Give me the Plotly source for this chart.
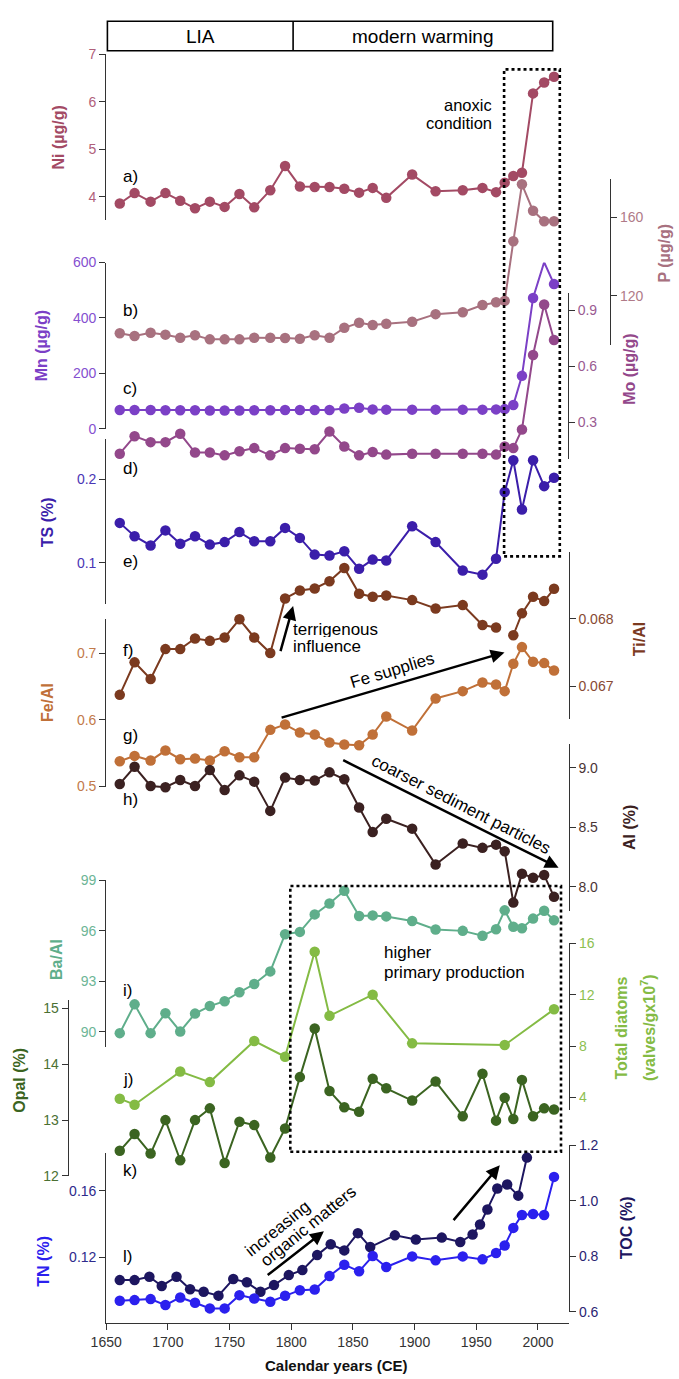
import plotly.graph_objects as go

# ---------------- data ----------------
years = [1661, 1673, 1686, 1698, 1710, 1722, 1734, 1746, 1758, 1770, 1783, 1795, 1807, 1819, 1831,
         1843, 1855, 1866, 1877, 1898, 1917, 1939, 1955, 1966, 1973, 1980, 1987, 1996, 2005, 2013]
toc_years = [1661, 1673, 1685, 1695, 1707, 1718, 1729, 1741, 1753, 1764, 1775, 1786, 1798, 1809, 1821,
             1832, 1843, 1854, 1864, 1884, 1901, 1922, 1937, 1947, 1953, 1959, 1967, 1975, 1984, 1991]
diatom_years = [1661, 1673, 1710, 1734, 1770, 1795, 1819, 1831, 1866, 1898, 1973, 2013]

ni = [3.86, 4.08, 3.90, 4.08, 3.92, 3.76, 3.90, 3.79, 4.06, 3.78, 4.14, 4.65, 4.22, 4.21, 4.21,
      4.17, 4.09, 4.19, 3.98, 4.47, 4.12, 4.14, 4.19, 4.10, 4.30, 4.44, 4.51, 6.18, 6.41, 6.53]
p = [100.7, 99.3, 101.0, 100.0, 98.4, 99.7, 97.6, 97.6, 97.6, 98.4, 98.4, 98.3, 97.9, 99.7, 98.4,
     103.5, 106.1, 104.9, 105.6, 106.6, 110.5, 111.5, 115.2, 116.6, 117.3, 147.8, 177.0, 163.4, 158.1, 158.1]
mn = [68, 68, 68, 67, 67, 67, 66, 66, 66, 67, 67, 68, 68, 68, 68,
      73, 76, 70, 69, 69, 69, 69, 69, 70, 71, 86, 191, 472, 601, 522]
mo = [0.131, 0.225, 0.193, 0.193, 0.238, 0.137, 0.137, 0.122, 0.144, 0.161, 0.122, 0.161, 0.158, 0.155, 0.250,
      0.170, 0.122, 0.140, 0.126, 0.131, 0.131, 0.131, 0.131, 0.126, 0.170, 0.161, 0.261, 0.661, 0.932, 0.742]
ts = [0.148, 0.132, 0.121, 0.139, 0.123, 0.132, 0.122, 0.125, 0.137, 0.126, 0.126, 0.142, 0.130, 0.110, 0.109,
      0.114, 0.093, 0.104, 0.103, 0.144, 0.125, 0.091, 0.086, 0.105, 0.185, 0.223, 0.164, 0.223, 0.192, 0.202]
ti_al = [0.066872, 0.067353, 0.067107, 0.067549, 0.067549, 0.067706, 0.067671, 0.067721, 0.067990, 0.067721,
         0.067490, 0.068299, 0.068416, 0.068446, 0.068553, 0.068750, 0.068368, 0.068324, 0.068343, 0.068274,
         0.068151, 0.068200, 0.067906, 0.067868, None, 0.067754, 0.068078, 0.068324, 0.068259, 0.068441]
fe_al = [0.538, 0.546, 0.539, 0.554, 0.541, 0.542, 0.539, 0.553, 0.544, 0.544, 0.585, 0.593, 0.581, 0.578, 0.566,
         0.563, 0.562, 0.578, 0.605, 0.584, 0.632, 0.643, 0.656, 0.653, 0.643, 0.684, 0.709, 0.687, 0.685, 0.674]
al = [8.864, 9.008, 8.847, 8.836, 8.897, 8.847, 8.980, 8.813, 8.936, 8.883, 8.638, 8.917, 8.897, 8.892, 8.961,
      8.903, 8.667, 8.461, 8.572, 8.489, 8.189, 8.364, 8.328, 8.355, 8.300, 7.869, 8.111, 8.078, 8.100, 7.917]
ba_al = [89.92, 91.63, 89.92, 91.10, 90.02, 91.08, 91.53, 91.82, 92.35, 92.84, 93.59, 95.80, 95.94, 96.98, 97.63,
         98.39, 96.88, 96.92, 96.86, 96.59, 96.08, 96.00, 95.71, 96.10, 97.22, 96.24, 96.16, 96.73, 97.20, 96.63]
diatoms = [3.90, 3.43, 6.01, 5.19, 8.39, 7.17, 15.35, 10.35, 12.00, 8.21, 8.08, 10.86]
opal = [12.45, 12.75, 12.40, 13.00, 12.28, 13.00, 13.21, 12.23, 12.97, 12.91, 12.33, 12.85, 13.77, 14.64, 13.52,
        13.23, 13.15, 13.74, 13.57, 13.35, 13.69, 13.07, 13.83, 12.99, 13.40, 13.02, 13.72, 13.07, 13.21, 13.19]
toc = [0.714, 0.714, 0.726, 0.693, 0.726, 0.681, 0.672, 0.658, 0.718, 0.706, 0.672, 0.696, 0.732, 0.750, 0.804,
       0.843, 0.821, 0.883, 0.833, 0.875, 0.860, 0.867, 0.851, 0.878, 0.914, 0.968, 1.044, 1.058, 1.018, 1.155]
tn = [0.0936, 0.0940, 0.0946, 0.0910, 0.0956, 0.0924, 0.0890, 0.0890, 0.0970, 0.0950, 0.0930, 0.0966, 0.1000,
      0.1004, 0.1086, 0.1154, 0.1114, 0.1206, 0.1140, 0.1204, 0.1180, 0.1204, 0.1186, 0.1224, 0.1270, 0.1376,
      0.1454, 0.1460, 0.1454, 0.1684]

x_ticks = [1650, 1700, 1750, 1800, 1850, 1900, 1950, 2000]

# ---------------- layout helpers ----------------
W, H = 679, 1379
ML, MR, MT, MB = 60, 64, 10, 56
PW, PH = W - ML - MR, H - MT - MB


def fx(px):
    return (px - ML) / PW


def fy(py):
    return (H - MB - py) / PH


X_LEFT, X_RIGHT = 105.3, 568.5
PX_PER_YR = 1.2337
X0_PX = 106.2  # pixel of 1650


def yr(px):
    return 1650 + (px - X0_PX) / PX_PER_YR


AX_COL = "#333333"
FONT = "Arial, Liberation Sans, sans-serif"

fig = go.Figure()
layout_axes = {}
annotations = []

# (name, x, y, color, tickcolor, side, axis_px, line_top, line_bot, (v1, py1), (v2, py2), tickvals, ticktext)
panels = [
    ("Ni", years, ni, "#a34a64", "#b0607a", "left", X_LEFT, 46.7, 213, (7, 46.7), (4, 190),
     [4, 5, 6, 7], ["4", "5", "6", "7"]),
    ("P", years, p, "#a8717f", "#b07a88", "right", 610, 171.7, 339.3, (160, 210.7), (120, 289.3),
     [120, 160], ["120", "160"]),
    ("Mn", years, mn, "#7b40c6", "#8550d0", "left", X_LEFT, 256, 423.3, (600, 256), (0, 423.3),
     [0, 200, 400, 600], ["0", "200", "400", "600"]),
    ("Mo", years, mo, "#93488b", "#9a5a92", "right", 567.7, 286.7, 453.3, (0.9, 304.3), (0.3, 416.7),
     [0.3, 0.6, 0.9], ["0.3", "0.6", "0.9"]),
    ("TS", years, ts, "#3b1eaa", "#4a36b5", "left", X_LEFT, 433.3, 600, (0.2, 474.3), (0.1, 558.3),
     [0.1, 0.2], ["0.1", "0.2"]),
    ("TiAl", years, ti_al, "#7b3a1f", "#874a33", "right", 568.5, 547.7, 715, (0.068, 614.3), (0.067, 682.3),
     [0.067, 0.068], ["0.067", "0.068"]),
    ("FeAl", years, fe_al, "#c07038", "#c27a4a", "left", X_LEFT, 614.3, 783.3, (0.7, 649), (0.5, 783.3),
     [0.5, 0.6, 0.7], ["0.5", "0.6", "0.7"]),
    ("Al", years, al, "#3b2121", "#4a3434", "right", 568.5, 740, 908.3, (9.0, 764.3), (8.0, 884.3),
     [8.0, 8.5, 9.0], ["8.0", "8.5", "9.0"]),
    ("BaAl", years, ba_al, "#5fae8b", "#6cb596", "left", X_LEFT, 877.7, 1045.7, (99, 877.7), (90, 1030),
     [90, 93, 96, 99], ["90", "93", "96", "99"]),
    ("Diatoms", diatom_years, diatoms, "#84bb44", "#8cc050", "right", 569.0, 941, 1108.3, (16, 941), (4, 1096),
     [4, 8, 12, 16], ["4", "8", "12", "16"]),
    ("Opal", years, opal, "#3b6421", "#4b7033", "left", 67.7, 997.7, 1175, (14, 1062.7), (12, 1175),
     [12, 13, 14, 15], ["12", "13", "14", "15"]),
    ("TOC", toc_years, toc, "#1d1660", "#2a2472", "right", 569.0, 1144, 1311.7, (1.2, 1144), (0.6, 1311.7),
     [0.6, 0.8, 1.0, 1.2], ["0.6", "0.8", "1.0", "1.2"]),
    ("TN", years, tn, "#2b20ee", "#2e2a8c", "left", X_LEFT, 1152, 1323, (0.16, 1190), (0.08, 1323.3),
     [0.08, 0.12, 0.16], ["0.08", "0.12", "0.16"]),
]

for i, (name, xs, ys, col, tcol, side, apx, ltop, lbot, c1, c2, tv, tt) in enumerate(panels):
    (v1, p1), (v2, p2) = c1, c2
    slope = (v1 - v2) / (p2 - p1)  # value per pixel upward

    def val(py):
        return v2 + (p2 - py) * slope

    rng = [val(lbot), val(ltop)]
    key = "yaxis" if i == 0 else f"yaxis{i + 1}"
    ref = "y" if i == 0 else f"y{i + 1}"
    layout_axes[key] = dict(
        domain=[fy(lbot), fy(ltop)], range=rng, anchor="free", position=fx(apx), side=side,
        showline=True, linecolor=AX_COL, linewidth=1.3, ticks="outside", ticklen=6, tickwidth=1.3,
        tickcolor=AX_COL, tickvals=tv, ticktext=tt, tickfont=dict(size=14, color=tcol, family=FONT),
        showgrid=False, zeroline=False, fixedrange=True,
    )
    fig.add_trace(go.Scatter(
        x=xs, y=ys, xaxis="x", yaxis=ref, mode="lines+markers", connectgaps=False,
        line=dict(color=col, width=2), marker=dict(color=col, size=10.5), cliponaxis=False,
        showlegend=False, name=name,
    ))

fig.update_layout(
    width=W, height=H, margin=dict(l=ML, r=MR, t=MT, b=MB),
    paper_bgcolor="white", plot_bgcolor="rgba(0,0,0,0)",
    font=dict(family=FONT, color="#222"),
    xaxis=dict(domain=[fx(X_LEFT), fx(X_RIGHT)], range=[yr(X_LEFT), yr(X_RIGHT)], anchor="free", position=0,
               showline=True, linecolor=AX_COL, linewidth=1.3, ticks="outside", ticklen=6, tickwidth=1.3,
               tickcolor=AX_COL, tickvals=x_ticks, ticktext=[str(v) for v in x_ticks],
               tickfont=dict(size=14, color="#333", family=FONT), showgrid=False, zeroline=False,
               fixedrange=True),
    **layout_axes,
)

# ---------------- shapes ----------------
shapes = []
# period box
shapes.append(dict(type="rect", xref="x", yref="paper", x0=yr(107.4), x1=yr(552.7), y0=fy(43), y1=fy(13.3),
                   line=dict(color="black", width=1.6), fillcolor="rgba(0,0,0,0)"))
shapes.append(dict(type="line", xref="x", yref="paper", x0=yr(293.1), x1=yr(293.1), y0=fy(43), y1=fy(13.3),
                   line=dict(color="black", width=1.6)))
# dotted boxes
shapes.append(dict(type="rect", xref="x", yref="paper", x0=yr(504.1), x1=yr(559.8), y0=fy(551.7), y1=fy(61.7),
                   line=dict(color="black", width=2.6, dash="dot"), fillcolor="rgba(0,0,0,0)"))
shapes.append(dict(type="rect", xref="x", yref="paper", x0=yr(290.3), x1=yr(561.0), y0=fy(1150.7), y1=fy(883.3),
                   line=dict(color="black", width=2.6, dash="dot"), fillcolor="rgba(0,0,0,0)"))
fig.update_layout(shapes=shapes)


# ---------------- annotations ----------------
def txt(px, py, text, size=17, color="black", xanchor="center", angle=0, bold=False, height=None):
    a = dict(
        x=fx(px), y=fy(py), xref="paper", yref="paper", text=f"<b>{text}</b>" if bold else text,
        showarrow=False, xanchor=xanchor, yanchor="middle", textangle=angle,
        font=dict(size=size, color=color, family=FONT),
    )
    if height is not None:
        a["height"] = height
    annotations.append(a)


def arrow(tx, ty, hx, hy):
    annotations.append(dict(
        x=fx(hx), y=fy(hy), xref="paper", yref="paper", ax=tx - hx, ay=ty - hy,
        axref="pixel", ayref="pixel", text="", showarrow=True, arrowhead=2, arrowsize=1.1,
        arrowwidth=2.5, arrowcolor="black", standoff=0, startstandoff=0,
    ))


txt(200.3, 28.5, "LIA", size=19)
txt(422.9, 28.5, "modern warming", size=19)

for lab, py in [("a)", 169), ("b)", 304), ("c)", 383), ("d)", 463), ("e)", 557), ("f)", 646),
                ("g)", 732), ("h)", 796), ("i)", 988), ("j)", 1078), ("k)", 1170), ("l)", 1256)]:
    txt(120.5, py, lab, size=17, xanchor="left")

txt(494, 98, "anoxic", size=16.5, xanchor="right", height=16)
txt(494, 116, "condition", size=16.5, xanchor="right", height=16)
txt(290.5, 625, "terrigenous", size=17, xanchor="left", height=16)
txt(290.5, 642, "influence", size=17, xanchor="left", height=16)
txt(392, 667, "Fe supplies", size=17, angle=-17)
txt(461, 801, "coarser sediment particles", size=17, angle=27)
txt(382, 950, "higher", size=17, xanchor="left", height=18)
txt(382, 969.5, "primary production", size=17, xanchor="left", height=18)
txt(278, 1228, "increasing", size=17, angle=-39)
txt(308, 1226, "organic matters", size=17, angle=-39)

arrow(280.1, 648.3, 293.1, 601.7)
arrow(280.1, 714, 504.5, 648.3)
arrow(341.7, 756.7, 558.6, 865)
arrow(266.2, 1275.7, 323.9, 1230.7)
arrow(452.3, 1220.7, 499.8, 1164.3)

# axis titles
txt(58.3, 130, "Ni (µg/g)", size=16, color="#a34a64", angle=-90, bold=True)
txt(42.3, 340, "Mn (µg/g)", size=16, color="#7b40c6", angle=-90, bold=True)
txt(48.3, 517, "TS (%)", size=16, color="#3b1eaa", angle=-90, bold=True)
txt(48.3, 699, "Fe/Al", size=16, color="#c07038", angle=-90, bold=True)
txt(56.7, 957, "Ba/Al", size=16, color="#5fae8b", angle=-90, bold=True)
txt(19.3, 1079, "Opal (%)", size=16, color="#3b6421", angle=-90, bold=True)
txt(43.3, 1261, "TN (%)", size=16, color="#2b20ee", angle=-90, bold=True)
txt(665, 247, "P (µg/g)", size=16, color="#a8717f", angle=-90, bold=True)
txt(630, 364, "Mo (µg/g)", size=16, color="#93488b", angle=-90, bold=True)
txt(639, 635, "Ti/Al", size=16, color="#7b3a1f", angle=-90, bold=True)
txt(629, 825, "Al (%)", size=16, color="#3b2121", angle=-90, bold=True)
txt(621.7, 1026, "Total diatoms", size=16, color="#84bb44", angle=-90, bold=True)
txt(648.3, 1026, "(valves/gx10<sup>7</sup>)", size=16, color="#84bb44", angle=-90, bold=True)
txt(626.7, 1227, "TOC (%)", size=16, color="#1d1660", angle=-90, bold=True)
txt(336.6, 1366, "Calendar years (CE)", size=15, color="#111", bold=True)

fig.update_layout(annotations=annotations)
fig.write_html("out.html", config={"displayModeBar": False},
               post_script="document.body.style.margin='0px';")
